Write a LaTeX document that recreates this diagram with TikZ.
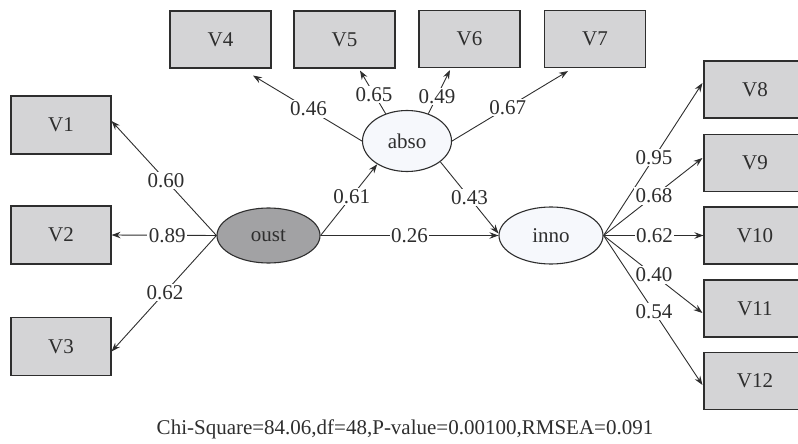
\documentclass[tikz,border=0pt]{standalone}
\usepackage{fontspec}
\setmainfont{Liberation Serif}
\usetikzlibrary{arrows.meta,shapes.geometric,calc}
\definecolor{boxfill}{HTML}{D4D4D6}
\definecolor{latfill}{HTML}{F6F8FC}
\definecolor{exofill}{HTML}{A2A2A4}
\definecolor{ink}{HTML}{2E2E2E}
\tikzset{
  obsbox/.style={draw=ink, line width=1.1pt, fill=boxfill, inner sep=0pt,
    minimum width=101pt, minimum height=57pt, text=ink},
  latent/.style={ellipse, draw=ink, line width=1.1pt, fill=latfill, inner sep=0pt, text=ink},
  conn/.style={draw=ink, line width=0.9pt, -{Stealth[length=9pt,width=6.5pt,inset=3pt]}},
  lbl/.style={fill=white, inner sep=1.5pt, text=ink},
}
\begin{document}
\begin{tikzpicture}[x=1pt, y=-1pt, font=\fontsize{21}{25}\selectfont]
\useasboundingbox (0,0) rectangle (798,444);
\begin{scope}
\clip (0,0) rectangle (798,444);
% observed indicators
\node[obsbox] (V4) at (220.5,39.5) {V4};
\node[obsbox] (V5) at (344.5,39.5) {V5};
\node[obsbox] (V6) at (469.5,39) {V6};
\node[obsbox] (V7) at (595,39) {V7};
\node[obsbox, minimum width=100pt, minimum height=58pt] (V1) at (61,125) {V1};
\node[obsbox, minimum width=100pt, minimum height=58pt] (V2) at (61,235) {V2};
\node[obsbox, minimum width=100pt, minimum height=58pt] (V3) at (61,346.5) {V3};
\node[obsbox, minimum width=102pt] (V8)  at (755,89.5) {V8};
\node[obsbox, minimum width=102pt] (V9)  at (755,163) {V9};
\node[obsbox, minimum width=102pt] (V10) at (755,235.5) {V10};
\node[obsbox, minimum width=102pt] (V11) at (755,308.5) {V11};
\node[obsbox, minimum width=102pt] (V12) at (755,381) {V12};
\end{scope}
% latent variables
\node[latent, minimum width=89pt, minimum height=61pt] (abso) at (407,141) {abso};
\node[latent, fill=exofill, minimum width=103pt, minimum height=55pt] (oust) at (268.5,235.5) {oust};
\node[latent, minimum width=104pt, minimum height=57pt] (inno) at (551,235.5) {inno};
% oust loadings
\draw[conn] (oust.west) -- node[lbl, pos=0.48] {0.60} ([yshift=4pt]V1.east);
\draw[conn] (oust.west) -- node[lbl, pos=0.47] {0.89} (V2.east);
\draw[conn] (oust.west) -- node[lbl, pos=0.49] {0.62} ([yshift=-5pt]V3.east);
% abso loadings
\draw[conn] (abso.west) -- node[lbl, pos=0.49] {0.46} ([xshift=32.5pt,yshift=-7pt]V4.south);
\draw[conn] (abso.128) -- node[lbl, pos=0.45] {0.65} ([xshift=15.5pt,yshift=-2pt]V5.south);
\draw[conn] (abso.52) -- node[lbl, pos=0.4] {0.49} ([xshift=-19.5pt,yshift=-2pt]V6.south);
\draw[conn] (abso.east) -- node[lbl, pos=0.48] {0.67} ([xshift=-27pt,yshift=-3pt]V7.south);
% structural paths
\draw[conn] (oust.east) -- node[lbl, pos=0.55] {0.61} (abso.218);
\draw[conn] (abso.328) -- node[lbl, pos=0.5] {0.43} ([yshift=2pt]inno.west);
\draw[conn] (oust.east) -- node[lbl, pos=0.5] {0.26} (inno.west);
% inno loadings
\draw[conn] (inno.east) -- node[lbl, pos=0.51] {0.95} ([xshift=-1pt,yshift=6.5pt]V8.west);
\draw[conn] (inno.east) -- node[lbl, pos=0.51] {0.68} ([xshift=-1pt,yshift=5pt]V9.west);
\draw[conn] (inno.east) -- node[lbl, pos=0.51] {0.62} (V10.west);
\draw[conn] (inno.east) -- node[lbl, pos=0.51] {0.40} ([xshift=-1pt,yshift=-4.5pt]V11.west);
\draw[conn] (inno.east) -- node[lbl, pos=0.51] {0.54} ([xshift=-1pt,yshift=-4pt]V12.west);
% fit statistics
\node[text=ink] (fit) at (405,429) {Chi-Square=84.06,df=48,P-value=0.00100,RMSEA=0.091};
\end{tikzpicture}
\end{document}
